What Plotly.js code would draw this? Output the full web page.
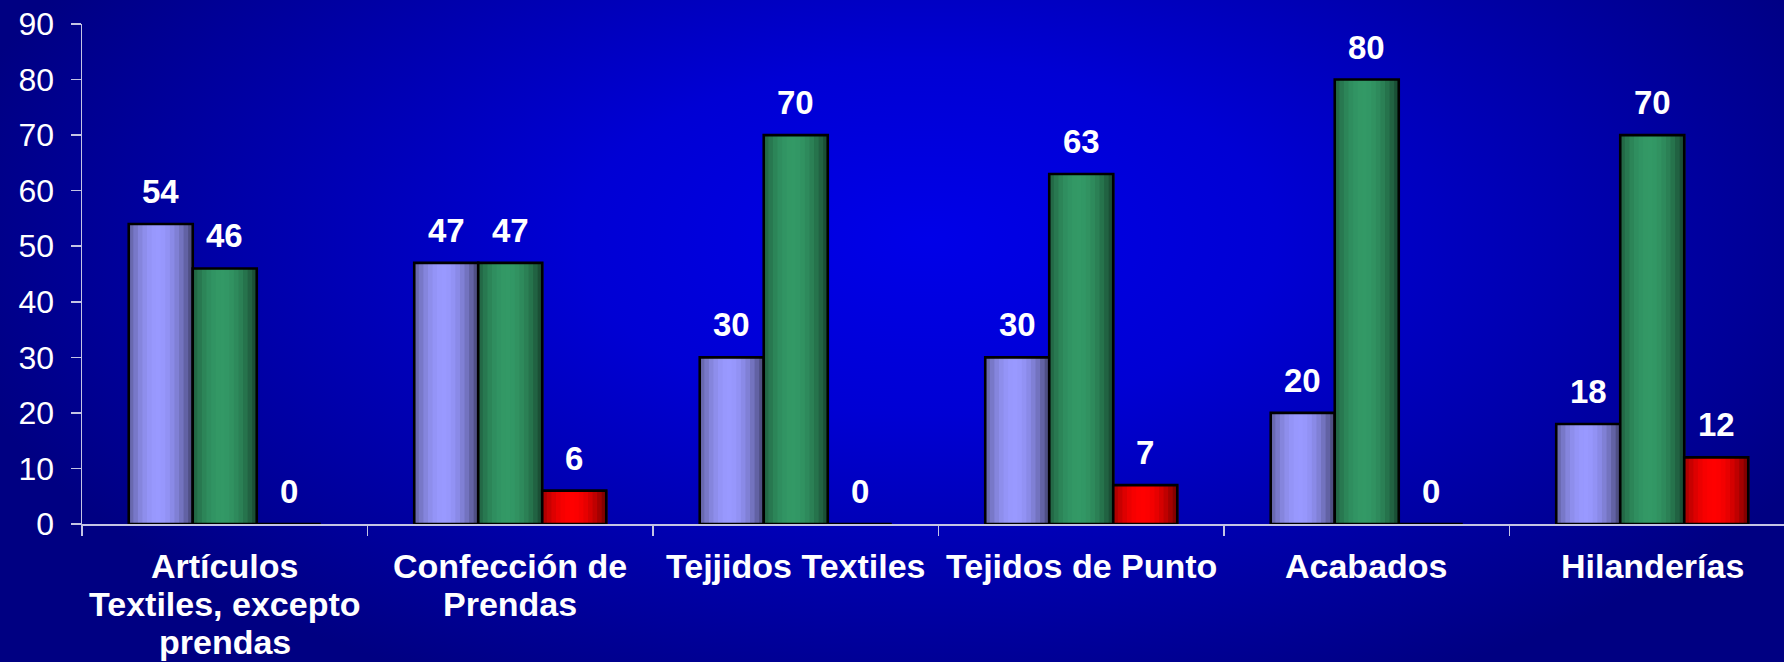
<!DOCTYPE html>
<html>
<head>
<meta charset="utf-8">
<script src="https://cdn.plot.ly/plotly-3.0.1.min.js"></script>
<style>
  html, body { margin: 0; padding: 0; }
  #chart {
    width: 1784px; height: 662px;
    background:
      radial-gradient(ellipse 56% 76% at 52% 36%, #0000e8 0%, #0000d4 35%, #0000a8 70%, #000082 100%);
  }
</style>
</head>
<body>
<div id="chart"></div>
<script>
// ---- data ----
const categories = [
  "Artículos<br>Textiles, excepto<br>prendas",
  "Confección de<br>Prendas",
  "Tejjidos Textiles",
  "Tejidos de Punto",
  "Acabados",
  "Hilanderías"
];
const serie1 = [54, 47, 30, 30, 20, 18];   // lavender
const serie2 = [46, 47, 70, 63, 80, 70];   // green
const serie3 = [0, 6, 0, 7, 0, 12];        // red
const yTicks = [0, 10, 20, 30, 40, 50, 60, 70, 80, 90];

// ---- styling ----
const FONT = "Arial, 'Liberation Sans', sans-serif";
const series = [
  { vals: serie1, rgb: [153, 153, 255] },
  { vals: serie2, rgb: [51, 153, 102] },
  { vals: serie3, rgb: [255, 0, 0] }
];
const barW = 0.2242;            // bar width in category units
const groupW = barW * series.length;
const N = 14;                   // stripes for the cylinder shading

function shade(rgb, t) {
  const d = (t - 0.45) / 0.55;
  const f = 0.45 + 0.55 * Math.max(0, 1 - d * d);
  return `rgb(${Math.round(rgb[0]*f)},${Math.round(rgb[1]*f)},${Math.round(rgb[2]*f)})`;
}

const traces = [];
const annotations = [];
series.forEach((s, si) => {
  const off = -groupW / 2 + si * barW;
  for (let k = 0; k < N; k++) {
    const t = (k + 0.5) / N;
    traces.push({
      type: 'bar', x: categories, y: s.vals,
      offset: off + k * barW / N, width: barW / N * 1.25,
      marker: { color: shade(s.rgb, t), line: { width: 0 } },
      hoverinfo: 'skip', showlegend: false
    });
  }
  traces.push({
    type: 'bar', x: categories, y: s.vals,
    offset: off, width: barW,
    marker: { color: 'rgba(0,0,0,0)', line: { color: '#000000', width: 2.6 } },
    showlegend: false
  });
  s.vals.forEach((v, i) => {
    annotations.push({
      x: i + off + barW / 2, y: v, xref: 'x', yref: 'y',
      text: String(v), showarrow: false, yanchor: 'bottom', yshift: 12,
      font: { family: FONT, size: 33, color: '#ffffff', weight: 'bold' }
    });
  });
});

// category labels: one annotation per line (tighter line spacing than tick labels allow)
categories.forEach((c, i) => {
  c.split('<br>').forEach((line, k) => {
    annotations.push({
      x: i, y: 0, xref: 'x', yref: 'paper',
      text: line, showarrow: false, yanchor: 'top', yshift: -(21 + k * 38),
      font: { family: FONT, size: 34, color: '#ffffff', weight: 'bold' }
    });
  });
});

const axisCol = '#c4c4e4';
const layout = {
  width: 1784, height: 662,
  margin: { l: 82, r: 0, t: 24, b: 138 },
  paper_bgcolor: 'rgba(0,0,0,0)',
  plot_bgcolor: 'rgba(0,0,0,0)',
  barmode: 'overlay',
  showlegend: false,
  font: { family: FONT, color: '#ffffff' },
  xaxis: {
    type: 'category', categoryorder: 'array', categoryarray: categories,
    range: [-0.5, 5.4615], fixedrange: true,
    showline: true, linecolor: axisCol, linewidth: 1.5,
    ticks: 'outside', tickson: 'boundaries', ticklen: 10, tickcolor: axisCol, tickwidth: 1.5,
    showgrid: false, zeroline: false, showticklabels: false, automargin: false
  },
  yaxis: {
    range: [0, 90], tickvals: yTicks, ticktext: yTicks.map(String),
    showline: true, linecolor: axisCol, linewidth: 1.5,
    ticks: 'outside', ticklen: 10, tickcolor: axisCol, tickwidth: 1.5,
    showgrid: false, zeroline: false,
    tickfont: { family: FONT, size: 32, color: '#ffffff' },
    ticklabelstandoff: 10, automargin: false
  },
  annotations: annotations
};

Plotly.newPlot('chart', traces, layout, { displayModeBar: false, staticPlot: true });
</script>
</body>
</html>
